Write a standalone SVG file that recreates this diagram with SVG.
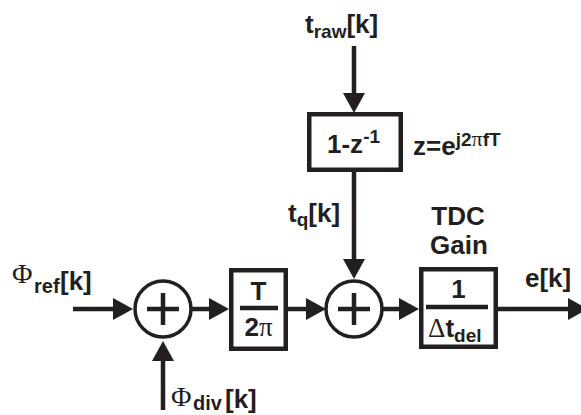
<svg xmlns="http://www.w3.org/2000/svg" width="581" height="415" viewBox="0 0 581 415">
<style>
  .ln{fill:none;stroke:#231f20;stroke-width:4.5}
  .bx{fill:#fff;stroke:#231f20;stroke-width:4.5}
  .sum{fill:#fff;stroke:#231f20;stroke-width:3.5}
  .pl{stroke:#231f20;stroke-width:4.5}
  .lb{font-family:"Liberation Sans",Arial,sans-serif;font-weight:bold;font-size:26px;fill:#231f20}
  .sub{font-size:19px}
  .gr{font-family:"Liberation Serif","DejaVu Serif",serif;font-weight:normal;fill:#231f20}
</style>
<defs>
  <marker id="ah" viewBox="0 0 20 22" markerWidth="20" markerHeight="22" refX="0" refY="11" orient="auto" markerUnits="userSpaceOnUse">
    <path d="M0,0 L20,11 L0,22 z" fill="#231f20"/>
  </marker>
</defs>

<g id="connectors">
  <path class="ln" d="M354,46 V93" marker-end="url(#ah)"/>
  <path class="ln" d="M354,172 V259" marker-end="url(#ah)"/>
  <path class="ln" d="M73,309 H113" marker-end="url(#ah)"/>
  <path class="ln" d="M163,410 V361" marker-end="url(#ah)"/>
  <path class="ln" d="M191,309 H209" marker-end="url(#ah)"/>
  <path class="ln" d="M288,309 H306" marker-end="url(#ah)"/>
  <path class="ln" d="M382,309 H399" marker-end="url(#ah)"/>
  <path class="ln" d="M498,309 H568" marker-end="url(#ah)"/>
</g>

<g id="in_traw">
  <text class="lb" x="305" y="33" font-size="27">t<tspan class="sub" dy="5">raw</tspan><tspan dy="-5">[k]</tspan></text>
</g>

<g id="diff">
  <rect class="bx" x="309.25" y="114.25" width="91.5" height="55.5"/>
  <text class="lb" x="327" y="153" font-size="25">1-z<tspan font-size="19" dy="-10">-1</tspan></text>
  <text class="lb" x="413" y="155" font-size="25">z=e<tspan font-size="19" dy="-9">j2</tspan><tspan class="gr" font-size="22">π</tspan><tspan font-size="19">fT</tspan></text>
</g>

<g id="label_tq">
  <text class="lb" x="288" y="222">t<tspan class="sub" dy="4">q</tspan><tspan dy="-4">[k]</tspan></text>
</g>

<g id="in_ref">
  <text class="lb" x="12" y="283"><tspan class="gr" font-size="28">Φ</tspan><tspan x="34" dy="10" font-size="20">ref</tspan><tspan x="60" dy="-3">[k]</tspan></text>
</g>

<g id="in_div">
  <text class="lb" x="171" y="406"><tspan class="gr" font-size="28">Φ</tspan><tspan x="193" dy="4" font-size="20">div</tspan><tspan x="225" dy="-2">[k]</tspan></text>
</g>

<g id="sum1">
  <circle class="sum" cx="163" cy="309" r="28"/>
  <path class="pl" d="M147,309 H179 M163,293 V325"/>
</g>

<g id="scale">
  <rect class="bx" x="231.25" y="270.25" width="54.5" height="78.5"/>
  <text class="lb" x="258.5" y="300" text-anchor="middle">T</text>
  <path class="pl" d="M240,308 H278"/>
  <text class="lb" x="258.5" y="336" text-anchor="middle">2<tspan class="gr" font-size="27">π</tspan></text>
</g>

<g id="sum2">
  <circle class="sum" cx="354" cy="309" r="28"/>
  <path class="pl" d="M338,309 H370 M354,293 V325"/>
</g>

<g id="tdc">
  <text class="lb" x="458" y="225" text-anchor="middle" font-size="27">TDC</text>
  <text class="lb" x="459" y="254" text-anchor="middle" font-size="27">Gain</text>
  <rect class="bx" x="421.25" y="269.25" width="74.5" height="77.5"/>
  <text class="lb" x="458.5" y="298" text-anchor="middle">1</text>
  <path class="pl" d="M426,307 H488"/>
  <text class="lb" x="428" y="337"><tspan class="gr" font-size="27">Δ</tspan>t<tspan class="sub" dy="5">del</tspan></text>
</g>

<g id="out_e">
  <text class="lb" x="525" y="287">e[k]</text>
</g>
</svg>
